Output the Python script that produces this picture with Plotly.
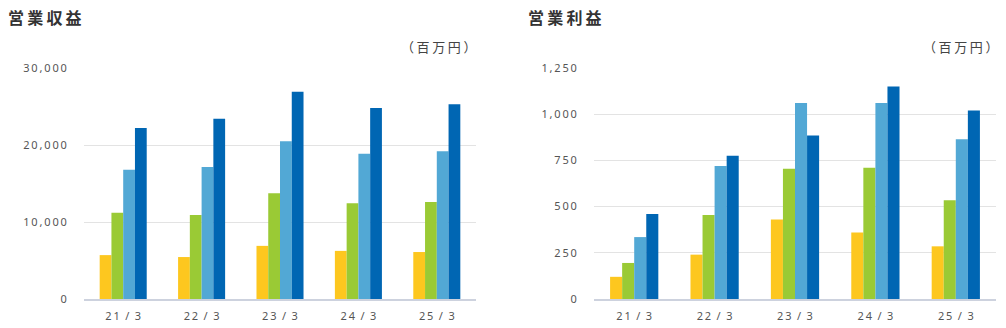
import plotly.graph_objects as go

categories = ["21/3", "22/3", "23/3", "24/3", "25/3"]

# 営業収益 (百万円)
rev_s1 = [5700, 5450, 6900, 6250, 6100]
rev_s2 = [11200, 10900, 13750, 12450, 12600]
rev_s3 = [16800, 17150, 20500, 18850, 19200]
rev_s4 = [22200, 23400, 26900, 24800, 25300]

# 営業利益 (百万円)
op_s1 = [120, 240, 430, 360, 285]
op_s2 = [195, 455, 705, 710, 535]
op_s3 = [335, 720, 1060, 1060, 865]
op_s4 = [460, 775, 885, 1150, 1020]

rev_ticks = [0, 10000, 20000, 30000]
rev_ticklabels = ["0", "10,000", "20,000", "30,000"]
op_ticks = [0, 250, 500, 750, 1000, 1250]
op_ticklabels = ["0", "250", "500", "750", "1,000", "1,250"]

colors = ["#FDC71F", "#9ACA35", "#52A8D5", "#0066B3"]

W, H = 1006, 328


def sp(s):
    return "\u2009".join(list(s))


def sp_cat(s):
    a, b = s.split("/")
    return "\u2009".join(list(a)) + "\u2002/\u2002" + b


fig = go.Figure()
for vals, c in zip([rev_s1, rev_s2, rev_s3, rev_s4], colors):
    fig.add_trace(go.Bar(x=categories, y=vals, marker=dict(color=c, line=dict(width=0)),
                         xaxis="x", yaxis="y", showlegend=False, hoverinfo="skip"))
for vals, c in zip([op_s1, op_s2, op_s3, op_s4], colors):
    fig.add_trace(go.Bar(x=categories, y=vals, marker=dict(color=c, line=dict(width=0)),
                         xaxis="x2", yaxis="y2", showlegend=False, hoverinfo="skip"))

tick_font = dict(family="Noto Sans, sans-serif", size=11, color="#555555")
ydom = [29 / H, 260 / H]

xcommon = dict(type="category", tickvals=categories, ticktext=[sp_cat(c) for c in categories],
               tickfont=tick_font, showgrid=False, zeroline=False, showline=True,
               linecolor="#CDD2DE", linewidth=1.5, ticks="outside", ticklen=6,
               tickcolor="rgba(0,0,0,0)", fixedrange=True, automargin=False)
ycommon = dict(showgrid=True, gridcolor="#E3E3E3", gridwidth=1, zeroline=False,
               showline=False, tickfont=tick_font, ticks="outside", ticklen=14,
               tickcolor="rgba(0,0,0,0)", fixedrange=True, domain=ydom, automargin=False)

fig.update_layout(
    width=W, height=H,
    margin=dict(l=0, r=0, t=0, b=0, autoexpand=False),
    paper_bgcolor="white", plot_bgcolor="white",
    barmode="group", bargap=0.4, bargroupgap=0,
    xaxis=dict(domain=[84 / W, 476 / W], anchor="y", **xcommon),
    yaxis=dict(anchor="x", range=[0, 30000], tickvals=rev_ticks,
               ticktext=[sp(t) for t in rev_ticklabels], **ycommon),
    xaxis2=dict(domain=[594 / W, 996 / W], anchor="y2", **xcommon),
    yaxis2=dict(anchor="x2", range=[0, 1250], tickvals=op_ticks,
                ticktext=[sp(t) for t in op_ticklabels], **ycommon),
)

title_font = dict(family="Noto Sans CJK JP", size=16, color="#333333", weight="bold")
unit_font = dict(family="Noto Sans CJK JP", size=13, color="#444444")

fig.add_annotation(text=sp("営業収益"), x=6 / W, y=1 - 17 / H, xref="paper", yref="paper",
                   xanchor="left", yanchor="middle", showarrow=False, font=title_font)
fig.add_annotation(text=sp("営業利益"), x=526 / W, y=1 - 17 / H, xref="paper", yref="paper",
                   xanchor="left", yanchor="middle", showarrow=False, font=title_font)
fig.add_annotation(text=sp("（百万円）"), x=478 / W, y=1 - 46 / H, xref="paper", yref="paper",
                   xanchor="right", yanchor="middle", showarrow=False, font=unit_font)
fig.add_annotation(text=sp("（百万円）"), x=1000 / W, y=1 - 46 / H, xref="paper", yref="paper",
                   xanchor="right", yanchor="middle", showarrow=False, font=unit_font)

fig.write_html("out.html", config={"displayModeBar": False})
